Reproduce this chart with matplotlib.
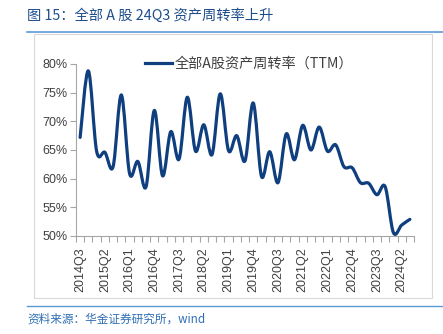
import matplotlib
matplotlib.use('Agg')
import numpy as np
import matplotlib.pyplot as plt
from matplotlib.path import Path
from matplotlib.patches import PathPatch, Rectangle
from matplotlib.lines import Line2D

plt.rcParams['font.family'] = ['Noto Sans CJK SC', 'DejaVu Sans']

# Données : rotation des actifs (TTM), 2014Q3 -> 2024Q3
turnover = [67.2, 78.8, 64.8, 64.6, 62.1, 74.6, 60.9, 63.0, 58.6, 71.9,
            60.5, 68.2, 63.4, 74.2, 64.8, 69.4, 64.2, 74.8, 64.9, 67.5,
            63.1, 73.2, 60.4, 64.7, 59.3, 67.8, 63.3, 69.3, 65.0, 69.0,
            64.8, 65.9, 62.1, 61.9, 59.3, 59.2, 57.2, 58.6, 50.6, 51.9,
            52.9]
tick_labels = ['2014Q3', '2015Q2', '2016Q1', '2016Q4', '2017Q3', '2018Q2',
               '2019Q1', '2019Q4', '2020Q3', '2021Q2', '2022Q1', '2022Q4',
               '2023Q3', '2024Q2']
y_ticks = [50, 55, 60, 65, 70, 75, 80]

title = '图 15：全部 A 股 24Q3 资产周转率上升'
legend_label = '全部A股资产周转率（TTM）'
source = '资料来源：华金证券研究所，wind'

line_color = '#0F3F7F'
blue_rule = '#5B9BD5'

W, H = 443, 334
fig = plt.figure(figsize=(W / 100, H / 100), dpi=100)

# Cadre gris et filets bleus
fig.patches.append(Rectangle((34 / W, 1 - 298 / H), (432 - 34) / W, (298 - 34) / H,
                             transform=fig.transFigure, fill=False,
                             edgecolor='#D9D9D9', lw=0.8))
fig.add_artist(Line2D([27 / W, 1.0], [1 - 32 / H, 1 - 32 / H], color=blue_rule, lw=1.2))
fig.add_artist(Line2D([27 / W, 1.0], [1 - 306 / H, 1 - 306 / H], color=blue_rule, lw=1.0))

fig.text(27 / W, 1 - 16 / H, title, color='#1F4E8C', fontsize=10.3, va='center', ha='left')
fig.text(27 / W, 1 - 319 / H, source, color='#2E6DB4', fontsize=8.4, va='center',
         ha='left', style='italic')

ax = fig.add_axes([76 / W, 1 - 236 / H, (414 - 76) / W, (236 - 64) / H])

# Courbe lissée (Bézier) passant par les points
x = np.arange(len(turnover), dtype=float)
y = np.array(turnover)
n = len(x)
verts = [(x[0], y[0])]
codes = [Path.MOVETO]
for k in range(n - 1):
    k0 = max(k - 1, 0)
    k3 = min(k + 2, n - 1)
    c1 = (x[k] + (x[k + 1] - x[k0]) / 6, y[k] + (y[k + 1] - y[k0]) / 6)
    c2 = (x[k + 1] - (x[k3] - x[k]) / 6, y[k + 1] - (y[k3] - y[k]) / 6)
    verts += [c1, c2, (x[k + 1], y[k + 1])]
    codes += [Path.CURVE4] * 3
ax.add_patch(PathPatch(Path(verts, codes), fill=False, edgecolor=line_color,
                       lw=2.3, capstyle='round', joinstyle='round'))

ax.set_xlim(-0.5, n - 0.5)
ax.set_ylim(50, 80)

for s in ['top', 'right']:
    ax.spines[s].set_visible(False)
for s in ['left', 'bottom']:
    ax.spines[s].set_color('#A6A6A6')
    ax.spines[s].set_linewidth(0.8)

ax.set_yticks(y_ticks)
ax.set_yticklabels([f'{v}%' for v in y_ticks], fontsize=9, color='#404040',
                   family='Liberation Sans')
ax.tick_params(axis='y', length=4, width=0.8, color='#A6A6A6', pad=2)

ax.set_xticks(np.arange(0, n, 3))
ax.set_xticklabels(tick_labels, rotation=90, fontsize=9, color='#404040',
                   family='Liberation Sans')
ax.set_xticks(np.arange(-0.5, n, 1), minor=True)
ax.tick_params(axis='x', which='major', length=0, pad=8)
ax.tick_params(axis='x', which='minor', length=4, width=0.8, color='#A6A6A6')

handle = Line2D([], [], color=line_color, lw=2.3)
ax.legend([handle], [legend_label], loc='center left', bbox_to_anchor=(0.205, 1.0),
          frameon=False, fontsize=10.2, handlelength=1.9, handletextpad=0.2,
          borderpad=0, borderaxespad=0, labelcolor='#404040')

fig.savefig('out.png', dpi=100)
